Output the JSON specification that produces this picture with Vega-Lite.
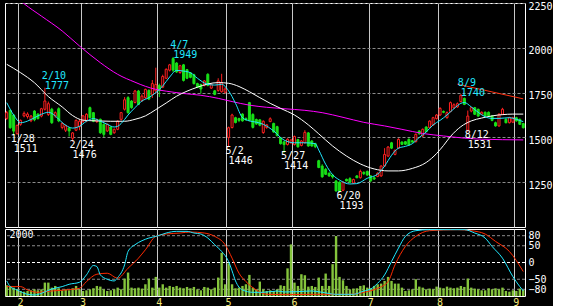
{
"$schema": "https://vega.github.io/schema/vega-lite/v6.json",
"background": "black",
"padding": {"left": 4, "top": 0, "right": 0, "bottom": 0},
"spacing": 0,
"config": {"view": {"stroke": "white", "strokeWidth": 1}, "font": "DejaVu Sans Mono", "axis": {"labelFont": "DejaVu Sans Mono", "labelFontSize": 10, "labelOverlap": false, "labelFlush": false, "tickSize": 0, "ticks": false, "domain": false, "title": null}},
"datasets": {
"p": [
{"d":"1/26","o":1606,"h":1648,"l":1598,"c":1638,"v":320,"a":1694,"b":1908,"k":-55,"s":-72},
{"d":"1/27","o":1651,"h":1656,"l":1548,"c":1554,"v":300,"k":-72},
{"d":"1/28","o":1625,"h":1630,"l":1511,"c":1535,"v":250,"a":1625},
{"d":"1/31","o":1521,"h":1572,"l":1515,"c":1567,"v":200,"k":-82},
{"d":"2/1","o":1573,"h":1600,"l":1565,"c":1595,"v":150,"a":1582,"b":1861,"m":2262,"s":-72},
{"d":"2/2","o":1620,"h":1645,"l":1612,"c":1634,"v":130,"m":2246},
{"d":"2/3","o":1616,"h":1640,"l":1605,"c":1630,"v":150,"a":1591,"k":-95,"s":-82},
{"d":"2/4","o":1593,"h":1625,"l":1585,"c":1619,"v":170},
{"d":"2/7","o":1647,"h":1652,"l":1590,"c":1598,"v":200,"a":1610,"b":1805,"k":-97},
{"d":"2/8","o":1630,"h":1635,"l":1600,"c":1605,"v":170,"s":-89},
{"d":"2/9","o":1619,"h":1665,"l":1612,"c":1660,"v":200,"a":1629,"m":2177,"k":-92},
{"d":"2/10","o":1657,"h":1777,"l":1650,"c":1703,"v":400},
{"d":"2/14","o":1628,"h":1700,"l":1620,"c":1688,"v":400,"a":1640,"b":1728},
{"d":"2/15","o":1657,"h":1665,"l":1575,"c":1582,"v":250,"k":-79,"s":-85},
{"d":"2/16","o":1620,"h":1645,"l":1610,"c":1638,"v":300,"a":1620},
{"d":"2/17","o":1660,"h":1668,"l":1585,"c":1592,"v":230,"a":1601},
{"d":"2/18","o":1555,"h":1585,"l":1545,"c":1578,"v":170,"b":1670,"m":2094,"k":-72},
{"d":"2/21","o":1540,"h":1572,"l":1530,"c":1565,"v":200,"a":1568,"s":-82},
{"d":"2/22","o":1552,"h":1558,"l":1505,"c":1536,"v":170,"k":-65},
{"d":"2/24","o":1495,"h":1530,"l":1476,"c":1525,"v":230,"a":1552,"b":1622},
{"d":"2/25","o":1540,"h":1600,"l":1535,"c":1595,"v":300},
{"d":"2/28","o":1560,"h":1600,"l":1540,"c":1590,"v":200,"a":1562,"m":2010,"k":-59,"s":-77},
{"d":"3/1","o":1590,"h":1625,"l":1580,"c":1620,"v":150,"b":1596},
{"d":"3/2","o":1591,"h":1635,"l":1585,"c":1629,"v":170,"a":1590,"k":-37,"s":-57},
{"d":"3/3","o":1666,"h":1672,"l":1605,"c":1610,"v":200},
{"d":"3/4","o":1638,"h":1642,"l":1585,"c":1590,"v":230,"a":1605,"k":-9},
{"d":"3/7","o":1588,"h":1605,"l":1580,"c":1600,"v":300,"b":1592,"k":-12,"s":-35},
{"d":"3/8","o":1601,"h":1605,"l":1520,"c":1526,"v":280,"a":1591,"m":1917,"k":-37},
{"d":"3/9","o":1573,"h":1578,"l":1502,"c":1517,"v":200},
{"d":"3/10","o":1536,"h":1578,"l":1530,"c":1573,"v":150,"a":1573,"k":-50,"s":-32},
{"d":"3/11","o":1558,"h":1562,"l":1512,"c":1517,"v":170,"b":1590},
{"d":"3/14","o":1526,"h":1550,"l":1520,"c":1545,"v":200,"a":1558,"k":-55},
{"d":"3/15","o":1545,"h":1595,"l":1540,"c":1591,"v":250,"a":1562,"m":1852,"k":-45,"s":-47},
{"d":"3/16","o":1601,"h":1642,"l":1595,"c":1638,"v":200},
{"d":"3/17","o":1657,"h":1725,"l":1650,"c":1710,"v":520,"a":1600,"b":1590,"k":-7},
{"d":"3/18","o":1722,"h":1730,"l":1632,"c":1638,"v":700,"a":1625,"k":33,"s":-17},
{"d":"3/22","o":1703,"h":1708,"l":1660,"c":1666,"v":250},
{"d":"3/23","o":1695,"h":1765,"l":1690,"c":1759,"v":230,"a":1666,"b":1601,"m":1808,"k":53},
{"d":"3/24","o":1759,"h":1765,"l":1680,"c":1684,"v":250,"s":13},
{"d":"3/25","o":1705,"h":1740,"l":1698,"c":1730,"v":220,"a":1703,"k":65},
{"d":"3/28","o":1722,"h":1772,"l":1715,"c":1768,"v":350,"b":1620,"m":1785,"s":38},
{"d":"3/29","o":1762,"h":1768,"l":1708,"c":1714,"v":520,"a":1722,"k":73},
{"d":"3/30","o":1740,"h":1820,"l":1720,"c":1800,"v":250},
{"d":"3/31","o":1760,"h":1889,"l":1745,"c":1795,"v":570,"a":1750,"b":1655,"m":1768,"k":78,"s":78},
{"d":"4/1","o":1790,"h":1800,"l":1725,"c":1760,"v":250,"k":81},
{"d":"4/4","o":1780,"h":1850,"l":1775,"c":1840,"v":350,"a":1787},
{"d":"4/5","o":1830,"h":1885,"l":1825,"c":1880,"v":250,"b":1692,"m":1758,"k":88,"s":85},
{"d":"4/6","o":1875,"h":1910,"l":1868,"c":1905,"v":300,"a":1837},
{"d":"4/7","o":1940,"h":1949,"l":1865,"c":1875,"v":270},
{"d":"4/8","o":1915,"h":1920,"l":1860,"c":1865,"v":300,"a":1874,"b":1730,"k":93},
{"d":"4/11","o":1862,"h":1905,"l":1855,"c":1900,"v":250,"s":88},
{"d":"4/12","o":1905,"h":1910,"l":1812,"c":1818,"v":230,"a":1870,"m":1745},
{"d":"4/13","o":1878,"h":1882,"l":1825,"c":1830,"v":270,"b":1758,"k":93},
{"d":"4/14","o":1860,"h":1865,"l":1830,"c":1835,"v":230,"a":1861,"s":91},
{"d":"4/15","o":1850,"h":1855,"l":1795,"c":1800,"v":270,"k":88},
{"d":"4/18","o":1800,"h":1805,"l":1775,"c":1780,"v":200,"a":1830,"b":1780},
{"d":"4/19","o":1795,"h":1800,"l":1745,"c":1770,"v":170,"m":1735,"k":85},
{"d":"4/20","o":1790,"h":1820,"l":1785,"c":1815,"v":270,"s":88},
{"d":"4/21","o":1852,"h":1858,"l":1785,"c":1790,"v":250,"a":1796,"b":1798,"k":73},
{"d":"4/22","o":1775,"h":1800,"l":1770,"c":1795,"v":200},
{"d":"4/25","o":1760,"h":1765,"l":1735,"c":1740,"v":250,"a":1792,"k":53,"s":78},
{"d":"4/26","o":1762,"h":1830,"l":1755,"c":1815,"v":550,"b":1806,"m":1718},
{"d":"4/27","o":1755,"h":1855,"l":1750,"c":1805,"v":1290,"a":1796,"k":33},
{"d":"4/28","o":1752,"h":1780,"l":1745,"c":1770,"v":350,"s":53},
{"d":"5/2","o":1500,"h":1560,"l":1446,"c":1554,"v":975,"a":1760,"b":1802,"k":3},
{"d":"5/6","o":1555,"h":1632,"l":1550,"c":1625,"v":350,"m":1700,"k":-25,"s":13},
{"d":"5/9","o":1610,"h":1615,"l":1578,"c":1583,"v":230,"a":1690,"k":-55},
{"d":"5/10","o":1605,"h":1610,"l":1585,"c":1595,"v":250,"b":1784,"s":-32},
{"d":"5/11","o":1630,"h":1635,"l":1588,"c":1592,"v":300,"a":1610,"k":-82},
{"d":"5/12","o":1605,"h":1612,"l":1595,"c":1598,"v":350,"s":-57},
{"d":"5/13","o":1694,"h":1698,"l":1590,"c":1595,"v":630,"a":1592,"b":1755,"m":1680},
{"d":"5/16","o":1628,"h":1635,"l":1550,"c":1556,"v":250,"k":-89},
{"d":"5/17","o":1600,"h":1605,"l":1570,"c":1575,"v":200,"a":1585,"s":-82},
{"d":"5/18","o":1598,"h":1602,"l":1562,"c":1568,"v":430,"b":1722},
{"d":"5/19","o":1527,"h":1595,"l":1520,"c":1590,"v":200,"a":1573,"k":-89},
{"d":"5/20","o":1555,"h":1575,"l":1548,"c":1570,"v":150,"m":1668,"s":-95},
{"d":"5/23","o":1588,"h":1612,"l":1585,"c":1604,"v":170,"b":1690},
{"d":"5/24","o":1578,"h":1582,"l":1525,"c":1530,"v":150,"a":1536},
{"d":"5/25","o":1560,"h":1565,"l":1505,"c":1510,"v":200,"k":-85},
{"d":"5/26","o":1498,"h":1500,"l":1460,"c":1465,"v":320,"b":1662},
{"d":"5/27","o":1475,"h":1480,"l":1414,"c":1460,"v":300,"a":1485,"m":1660,"k":-88,"s":-96},
{"d":"5/30","o":1460,"h":1495,"l":1455,"c":1490,"v":825},
{"d":"5/31","o":1470,"h":1490,"l":1465,"c":1485,"v":1540},
{"d":"6/1","o":1460,"h":1510,"l":1455,"c":1505,"v":400,"a":1470,"b":1625},
{"d":"6/2","o":1488,"h":1492,"l":1442,"c":1448,"v":300,"k":-87},
{"d":"6/3","o":1455,"h":1485,"l":1450,"c":1480,"v":650},
{"d":"6/6","o":1470,"h":1540,"l":1465,"c":1528,"v":620,"a":1470,"m":1651},
{"d":"6/7","o":1525,"h":1530,"l":1448,"c":1452,"v":280,"b":1570},
{"d":"6/8","o":1480,"h":1485,"l":1448,"c":1452,"v":300,"k":-85},
{"d":"6/9","o":1465,"h":1470,"l":1440,"c":1448,"v":270,"a":1465,"s":-95},
{"d":"6/10","o":1370,"h":1375,"l":1328,"c":1332,"v":550,"a":1430,"b":1520},
{"d":"6/13","o":1340,"h":1350,"l":1275,"c":1280,"v":300,"m":1638,"k":-89},
{"d":"6/14","o":1322,"h":1330,"l":1290,"c":1294,"v":670,"a":1350},
{"d":"6/15","o":1300,"h":1305,"l":1280,"c":1285,"v":300},
{"d":"6/16","o":1290,"h":1295,"l":1270,"c":1279,"v":950,"a":1292,"b":1452},
{"d":"6/17","o":1257,"h":1262,"l":1198,"c":1201,"v":1790,"k":-95},
{"d":"6/20","o":1250,"h":1255,"l":1193,"c":1200,"v":570,"a":1262},
{"d":"6/21","o":1205,"h":1255,"l":1200,"c":1250,"v":470,"m":1612},
{"d":"6/22","o":1266,"h":1270,"l":1255,"c":1257,"v":300,"b":1396},
{"d":"6/23","o":1270,"h":1278,"l":1248,"c":1250,"v":200,"a":1240,"s":-95},
{"d":"6/24","o":1245,"h":1270,"l":1240,"c":1265,"v":220,"k":-95},
{"d":"6/27","o":1285,"h":1290,"l":1272,"c":1275,"v":230,"a":1242},
{"d":"6/28","o":1275,"h":1320,"l":1270,"c":1310,"v":300,"b":1352},
{"d":"6/29","o":1305,"h":1310,"l":1290,"c":1298,"v":320,"m":1584,"k":-85,"s":-89},
{"d":"6/30","o":1310,"h":1315,"l":1285,"c":1290,"v":250,"a":1272},
{"d":"7/1","o":1285,"h":1290,"l":1250,"c":1258,"v":230,"k":-79},
{"d":"7/4","o":1275,"h":1282,"l":1262,"c":1268,"v":300,"b":1324},
{"d":"7/5","o":1282,"h":1305,"l":1278,"c":1300,"v":350,"a":1295,"k":-62,"s":-77},
{"d":"7/6","o":1285,"h":1345,"l":1280,"c":1340,"v":370},
{"d":"7/7","o":1340,"h":1440,"l":1335,"c":1405,"v":450,"a":1340,"m":1564,"k":-37},
{"d":"7/8","o":1396,"h":1452,"l":1390,"c":1446,"v":570,"b":1313,"s":-57},
{"d":"7/11","o":1470,"h":1475,"l":1435,"c":1440,"v":450,"a":1400,"k":3},
{"d":"7/12","o":1405,"h":1432,"l":1400,"c":1428,"v":370,"s":-7},
{"d":"7/13","o":1440,"h":1495,"l":1435,"c":1489,"v":370,"a":1440,"b":1313,"k":43},
{"d":"7/14","o":1474,"h":1478,"l":1458,"c":1461,"v":250,"m":1545},
{"d":"7/15","o":1476,"h":1480,"l":1458,"c":1462,"v":150,"a":1450,"k":78,"s":48},
{"d":"7/19","o":1489,"h":1495,"l":1455,"c":1458,"v":170},
{"d":"7/20","o":1481,"h":1485,"l":1470,"c":1474,"v":200,"a":1465,"b":1327},
{"d":"7/21","o":1476,"h":1522,"l":1472,"c":1517,"v":500,"k":95,"s":78},
{"d":"7/22","o":1536,"h":1540,"l":1515,"c":1520,"v":280,"a":1500},
{"d":"7/25","o":1508,"h":1550,"l":1502,"c":1545,"v":250,"m":1522},
{"d":"7/26","o":1558,"h":1562,"l":1528,"c":1532,"v":200,"a":1530,"b":1360},
{"d":"7/27","o":1554,"h":1595,"l":1550,"c":1591,"v":220,"k":98,"s":95},
{"d":"7/28","o":1569,"h":1615,"l":1565,"c":1610,"v":200,"a":1570},
{"d":"7/29","o":1605,"h":1630,"l":1600,"c":1625,"v":280,"b":1410},
{"d":"8/1","o":1625,"h":1668,"l":1620,"c":1662,"v":250,"a":1595},
{"d":"8/2","o":1645,"h":1650,"l":1635,"c":1640,"v":230,"b":1455,"m":1508},
{"d":"8/3","o":1610,"h":1645,"l":1605,"c":1638,"v":280,"a":1625},
{"d":"8/4","o":1645,"h":1700,"l":1640,"c":1694,"v":250,"b":1505,"k":98},
{"d":"8/5","o":1665,"h":1690,"l":1660,"c":1682,"v":230,"a":1660},
{"d":"8/8","o":1670,"h":1695,"l":1665,"c":1688,"v":250,"r":1797,"s":98},
{"d":"8/9","o":1700,"h":1740,"l":1695,"c":1735,"v":300,"a":1690,"b":1560},
{"d":"8/10","o":1718,"h":1722,"l":1680,"c":1684,"v":270,"a":1695,"m":1496,"k":98},
{"d":"8/12","o":1540,"h":1650,"l":1531,"c":1619,"v":520},
{"d":"8/15","o":1647,"h":1670,"l":1640,"c":1666,"v":250,"a":1670,"b":1592,"s":95},
{"d":"8/16","o":1666,"h":1670,"l":1625,"c":1629,"v":220,"k":88},
{"d":"8/17","o":1657,"h":1660,"l":1615,"c":1619,"v":200,"a":1640},
{"d":"8/18","o":1630,"h":1645,"l":1625,"c":1640,"v":170,"b":1608,"m":1490},
{"d":"8/19","o":1640,"h":1645,"l":1615,"c":1620,"v":170,"a":1615,"k":73,"s":85},
{"d":"8/22","o":1640,"h":1645,"l":1615,"c":1622,"v":230},
{"d":"8/23","o":1619,"h":1625,"l":1590,"c":1595,"v":200,"a":1606,"b":1620,"k":48},
{"d":"8/24","o":1582,"h":1588,"l":1560,"c":1564,"v":230,"s":63},
{"d":"8/25","o":1564,"h":1635,"l":1560,"c":1629,"v":200,"a":1606},
{"d":"8/26","o":1629,"h":1665,"l":1625,"c":1657,"v":250,"b":1627,"k":13},
{"d":"8/29","o":1601,"h":1606,"l":1578,"c":1582,"v":150},
{"d":"8/30","o":1582,"h":1615,"l":1578,"c":1610,"v":130,"a":1610,"s":33},
{"d":"8/31","o":1585,"h":1615,"l":1580,"c":1610,"v":170,"b":1630,"k":-42},
{"d":"9/1","o":1610,"h":1615,"l":1588,"c":1592,"v":150,"a":1601},
{"d":"9/2","o":1601,"h":1605,"l":1570,"c":1573,"v":220,"k":-72},
{"d":"9/5","o":1577,"h":1580,"l":1550,"c":1554,"v":180,"a":1588,"b":1630,"m":1486,"r":1715,"k":-85,"s":-27}
],
"ann": [
{"d":"1/28","p":1511,"k":"l"},
{"d":"2/10","p":1777,"k":"h"},
{"d":"2/24","p":1476,"k":"l"},
{"d":"4/7","p":1949,"k":"h"},
{"d":"5/2","p":1446,"k":"l"},
{"d":"5/27","p":1414,"k":"l"},
{"d":"6/20","p":1193,"k":"l"},
{"d":"8/9","p":1740,"k":"h"},
{"d":"8/12","p":1531,"k":"l"}
],
"lv": [{"g": 80}, {"g": 50}, {"g": 0}, {"g": -50}, {"g": -80}]
},
"vconcat": [
{
"width": 520, "height": 224,
"data": {"name": "p"},
"encoding": {"x": {"field": "d", "type": "ordinal", "sort": null,
  "scale": {"paddingInner": 0, "paddingOuter": 0, "domain": ["1/26","1/27","1/28","1/31","2/1","2/2","2/3","2/4","2/7","2/8","2/9","2/10","2/14","2/15","2/16","2/17","2/18","2/21","2/22","2/24","2/25","2/28","3/1","3/2","3/3","3/4","3/7","3/8","3/9","3/10","3/11","3/14","3/15","3/16","3/17","3/18","3/22","3/23","3/24","3/25","3/28","3/29","3/30","3/31","4/1","4/4","4/5","4/6","4/7","4/8","4/11","4/12","4/13","4/14","4/15","4/18","4/19","4/20","4/21","4/22","4/25","4/26","4/27","4/28","5/2","5/6","5/9","5/10","5/11","5/12","5/13","5/16","5/17","5/18","5/19","5/20","5/23","5/24","5/25","5/26","5/27","5/30","5/31","6/1","6/2","6/3","6/6","6/7","6/8","6/9","6/10","6/13","6/14","6/15","6/16","6/17","6/20","6/21","6/22","6/23","6/24","6/27","6/28","6/29","6/30","7/1","7/4","7/5","7/6","7/7","7/8","7/11","7/12","7/13","7/14","7/15","7/19","7/20","7/21","7/22","7/25","7/26","7/27","7/28","7/29","8/1","8/2","8/3","8/4","8/5","8/8","8/9","8/10","8/12","8/15","8/16","8/17","8/18","8/19","8/22","8/23","8/24","8/25","8/26","8/29","8/30","8/31","9/1","9/2","9/5"]},
  "axis": {"values": ["2/1","3/1","4/1","5/2","6/1","7/1","8/1","9/1"], "bandPosition": 0, "grid": true, "gridColor": "#c8c8c8", "gridWidth": 1, "labels": false}}},
"layer": [
 {"mark": {"type": "rule", "strokeWidth": 1},
  "encoding": {"y": {"field": "l", "type": "quantitative", "scale": {"domain": [1000, 2250], "nice": false, "zero": false},
     "axis": {"orient": "right", "values": [1250, 1500, 1750, 2000, 2250], "format": "d", "labelColor": "white", "labelPadding": 3, "labelOffset": 3, "labelBaseline": "middle", "grid": true, "gridColor": "#8c8c8c", "gridDash": [3, 2]}},
   "y2": {"field": "h"},
   "color": {"condition": {"test": "datum.c >= datum.o", "value": "#ff2020"}, "value": "#18e018"}}},
 {"mark": {"type": "bar", "size": 2, "strokeWidth": 1},
  "encoding": {"y": {"field": "o", "type": "quantitative"}, "y2": {"field": "c"},
   "fill": {"condition": {"test": "datum.c >= datum.o", "value": "black"}, "value": "#18e018"},
   "stroke": {"condition": {"test": "datum.c >= datum.o", "value": "#ff2020"}, "value": "#18e018"}}},
 {"mark": {"type": "line", "color": "#ff00ff", "strokeWidth": 1, "interpolate": "monotone", "clip": true, "invalid": "filter"},
  "encoding": {"y": {"field": "m", "type": "quantitative"}}},
 {"mark": {"type": "line", "color": "#ffffff", "strokeWidth": 1, "interpolate": "monotone", "clip": true, "invalid": "filter"},
  "encoding": {"y": {"field": "b", "type": "quantitative"}}},
 {"mark": {"type": "line", "color": "#20e8ff", "strokeWidth": 1, "interpolate": "monotone", "clip": true, "invalid": "filter"},
  "encoding": {"y": {"field": "a", "type": "quantitative"}}},
 {"mark": {"type": "line", "color": "#ff3010", "strokeWidth": 1, "clip": true, "invalid": "filter"},
  "encoding": {"y": {"field": "r", "type": "quantitative"}}},
 {"data": {"name": "ann"}, "transform": [{"filter": "datum.k == 'h'"}],
  "mark": {"type": "text", "align": "left", "baseline": "middle", "dx": -3, "dy": -11.5, "fontSize": 10, "color": "#20e8ff"},
  "encoding": {"y": {"field": "p", "type": "quantitative"}, "text": {"field": "d"}}},
 {"data": {"name": "ann"}, "transform": [{"filter": "datum.k == 'h'"}],
  "mark": {"type": "text", "align": "left", "baseline": "middle", "dx": 0, "dy": -1.5, "fontSize": 10, "color": "#20e8ff"},
  "encoding": {"y": {"field": "p", "type": "quantitative"}, "text": {"field": "p", "type": "quantitative", "format": "d"}}},
 {"data": {"name": "ann"}, "transform": [{"filter": "datum.k == 'l'"}],
  "mark": {"type": "text", "align": "left", "baseline": "middle", "dx": -3, "dy": 3.5, "fontSize": 10, "color": "white"},
  "encoding": {"y": {"field": "p", "type": "quantitative"}, "text": {"field": "d"}}},
 {"data": {"name": "ann"}, "transform": [{"filter": "datum.k == 'l'"}],
  "mark": {"type": "text", "align": "left", "baseline": "middle", "dx": 0, "dy": 13.5, "fontSize": 10, "color": "white"},
  "encoding": {"y": {"field": "p", "type": "quantitative"}, "text": {"field": "p", "type": "quantitative", "format": "d"}}}
]
},
{
"width": 520, "height": 67,
"layer": [
 {"data": {"name": "lv"},
  "mark": {"type": "rule", "strokeWidth": 1, "strokeDash": [3, 2]},
  "encoding": {"y": {"field": "g", "type": "quantitative", "scale": {"domain": [-100, 100], "nice": false, "zero": false}, "axis": null},
   "color": {"condition": {"test": "datum.g == 0", "value": "#ffffff"}, "value": "#8c8c8c"}}},
 {"data": {"name": "p"},
  "mark": {"type": "bar", "size": 2.4, "color": "#84c43c"},
  "encoding": {
   "x": {"field": "d", "type": "ordinal", "sort": null,
    "scale": {"paddingInner": 0, "paddingOuter": 0, "domain": ["1/26","1/27","1/28","1/31","2/1","2/2","2/3","2/4","2/7","2/8","2/9","2/10","2/14","2/15","2/16","2/17","2/18","2/21","2/22","2/24","2/25","2/28","3/1","3/2","3/3","3/4","3/7","3/8","3/9","3/10","3/11","3/14","3/15","3/16","3/17","3/18","3/22","3/23","3/24","3/25","3/28","3/29","3/30","3/31","4/1","4/4","4/5","4/6","4/7","4/8","4/11","4/12","4/13","4/14","4/15","4/18","4/19","4/20","4/21","4/22","4/25","4/26","4/27","4/28","5/2","5/6","5/9","5/10","5/11","5/12","5/13","5/16","5/17","5/18","5/19","5/20","5/23","5/24","5/25","5/26","5/27","5/30","5/31","6/1","6/2","6/3","6/6","6/7","6/8","6/9","6/10","6/13","6/14","6/15","6/16","6/17","6/20","6/21","6/22","6/23","6/24","6/27","6/28","6/29","6/30","7/1","7/4","7/5","7/6","7/7","7/8","7/11","7/12","7/13","7/14","7/15","7/19","7/20","7/21","7/22","7/25","7/26","7/27","7/28","7/29","8/1","8/2","8/3","8/4","8/5","8/8","8/9","8/10","8/12","8/15","8/16","8/17","8/18","8/19","8/22","8/23","8/24","8/25","8/26","8/29","8/30","8/31","9/1","9/2","9/5"]},
    "axis": {"orient": "bottom", "values": ["2/1","3/1","4/1","5/2","6/1","7/1","8/1","9/1"], "bandPosition": 0, "grid": true, "gridColor": "#c8c8c8", "gridWidth": 1, "labelExpr": "split(datum.value, '/')[0]", "labelColor": "#f4e878", "labelAngle": 0, "labelAlign": "center", "labelBaseline": "top", "labelPadding": 1, "labelFontSize": 10}},
   "y": {"field": "v", "type": "quantitative", "scale": {"domain": [0, 2000], "nice": false},
    "axis": {"orient": "left", "values": [2000], "format": "d", "labelAlign": "left", "labelBaseline": "top", "labelPadding": -4, "labelColor": "white", "grid": false}}}},
 {"data": {"name": "p"},
  "mark": {"type": "line", "color": "#ff2a00", "strokeWidth": 1, "interpolate": "monotone", "clip": true, "invalid": "filter"},
  "encoding": {
   "x": {"field": "d", "type": "ordinal", "sort": null,
    "scale": {"paddingInner": 0, "paddingOuter": 0, "domain": ["1/26","1/27","1/28","1/31","2/1","2/2","2/3","2/4","2/7","2/8","2/9","2/10","2/14","2/15","2/16","2/17","2/18","2/21","2/22","2/24","2/25","2/28","3/1","3/2","3/3","3/4","3/7","3/8","3/9","3/10","3/11","3/14","3/15","3/16","3/17","3/18","3/22","3/23","3/24","3/25","3/28","3/29","3/30","3/31","4/1","4/4","4/5","4/6","4/7","4/8","4/11","4/12","4/13","4/14","4/15","4/18","4/19","4/20","4/21","4/22","4/25","4/26","4/27","4/28","5/2","5/6","5/9","5/10","5/11","5/12","5/13","5/16","5/17","5/18","5/19","5/20","5/23","5/24","5/25","5/26","5/27","5/30","5/31","6/1","6/2","6/3","6/6","6/7","6/8","6/9","6/10","6/13","6/14","6/15","6/16","6/17","6/20","6/21","6/22","6/23","6/24","6/27","6/28","6/29","6/30","7/1","7/4","7/5","7/6","7/7","7/8","7/11","7/12","7/13","7/14","7/15","7/19","7/20","7/21","7/22","7/25","7/26","7/27","7/28","7/29","8/1","8/2","8/3","8/4","8/5","8/8","8/9","8/10","8/12","8/15","8/16","8/17","8/18","8/19","8/22","8/23","8/24","8/25","8/26","8/29","8/30","8/31","9/1","9/2","9/5"]},
    "axis": {"orient": "bottom", "values": ["2/1","3/1","4/1","5/2","6/1","7/1","8/1","9/1"], "bandPosition": 0, "grid": true, "gridColor": "#c8c8c8", "gridWidth": 1, "labelExpr": "split(datum.value, '/')[0]", "labelColor": "#f4e878", "labelAngle": 0, "labelAlign": "center", "labelBaseline": "top", "labelPadding": 1, "labelFontSize": 10}},
   "y": {"field": "s", "type": "quantitative", "scale": {"domain": [-100, 100], "nice": false, "zero": false},
    "axis": {"orient": "right", "values": [-80, -50, 0, 50, 80], "format": "d", "labelOverlap": false, "labelColor": "white", "labelPadding": 3, "grid": false}}}},
 {"data": {"name": "p"},
  "mark": {"type": "line", "color": "#20e8ff", "strokeWidth": 1, "interpolate": "monotone", "clip": true, "invalid": "filter"},
  "encoding": {
   "x": {"field": "d", "type": "ordinal", "sort": null,
    "scale": {"paddingInner": 0, "paddingOuter": 0, "domain": ["1/26","1/27","1/28","1/31","2/1","2/2","2/3","2/4","2/7","2/8","2/9","2/10","2/14","2/15","2/16","2/17","2/18","2/21","2/22","2/24","2/25","2/28","3/1","3/2","3/3","3/4","3/7","3/8","3/9","3/10","3/11","3/14","3/15","3/16","3/17","3/18","3/22","3/23","3/24","3/25","3/28","3/29","3/30","3/31","4/1","4/4","4/5","4/6","4/7","4/8","4/11","4/12","4/13","4/14","4/15","4/18","4/19","4/20","4/21","4/22","4/25","4/26","4/27","4/28","5/2","5/6","5/9","5/10","5/11","5/12","5/13","5/16","5/17","5/18","5/19","5/20","5/23","5/24","5/25","5/26","5/27","5/30","5/31","6/1","6/2","6/3","6/6","6/7","6/8","6/9","6/10","6/13","6/14","6/15","6/16","6/17","6/20","6/21","6/22","6/23","6/24","6/27","6/28","6/29","6/30","7/1","7/4","7/5","7/6","7/7","7/8","7/11","7/12","7/13","7/14","7/15","7/19","7/20","7/21","7/22","7/25","7/26","7/27","7/28","7/29","8/1","8/2","8/3","8/4","8/5","8/8","8/9","8/10","8/12","8/15","8/16","8/17","8/18","8/19","8/22","8/23","8/24","8/25","8/26","8/29","8/30","8/31","9/1","9/2","9/5"]},
    "axis": {"orient": "bottom", "values": ["2/1","3/1","4/1","5/2","6/1","7/1","8/1","9/1"], "bandPosition": 0, "grid": true, "gridColor": "#c8c8c8", "gridWidth": 1, "labelExpr": "split(datum.value, '/')[0]", "labelColor": "#f4e878", "labelAngle": 0, "labelAlign": "center", "labelBaseline": "top", "labelPadding": 1, "labelFontSize": 10}},
   "y": {"field": "k", "type": "quantitative", "scale": {"domain": [-100, 100], "nice": false, "zero": false}, "axis": null}}}
],
"resolve": {"scale": {"y": "independent"}, "axis": {"y": "independent"}}
}
]
}
